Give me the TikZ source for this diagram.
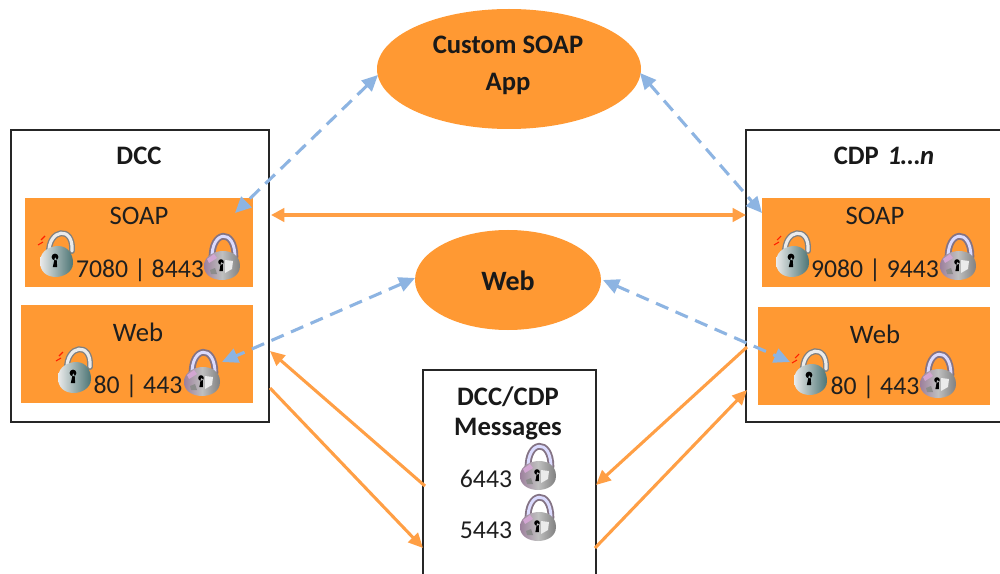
\documentclass[tikz,border=0pt]{standalone}
\usepackage{fontspec}
\setmainfont{Carlito}
\usetikzlibrary{arrows.meta}
\definecolor{ora}{HTML}{FF9933}
\definecolor{oral}{HTML}{FF9F45}
\definecolor{blu}{HTML}{8DB4E2}
\tikzset{
  blk/.style={draw=black!85,line width=1.2pt,fill=white},
  orect/.style={fill=ora,draw=none},
  ttl/.style={font=\fontsize{20}{22}\selectfont\bfseries,text=black!90,inner sep=0pt},
  lbl/.style={font=\fontsize{20}{22}\selectfont,text=black!88,inner sep=0pt},
  oarrow/.style={draw=oral,line width=2.3pt,-{Triangle[length=11pt,width=10pt]}},
  oboth/.style={draw=oral,line width=2.5pt,{Triangle[length=10pt,width=10pt]}-{Triangle[length=10pt,width=10pt]}},
  barrow/.style={draw=blu,line width=2.3pt,dash pattern=on 10pt off 6pt,{Triangle[length=12pt,width=11pt]}-{Triangle[length=12pt,width=11pt]}},
  lockopen/.pic={
    \draw[line width=4.4pt,draw=black!50,line cap=round] (-7,-9) .. controls (-8,-33) and (18,-37) .. (16,-11);
    \draw[line width=2.4pt,draw=black!8,line cap=round] (-7,-9) .. controls (-8,-33) and (18,-37) .. (16,-11);
    \shade[left color=black!8,right color=teal!45!black!70,draw=none]
      (-16,0) .. controls (-16,-13) and (-3,-16) .. (2,-16) .. controls (12,-16) and (17,-8) .. (17,1)
      .. controls (17,11) and (6,15) .. (0,15) .. controls (-10,15) and (-16,9) .. (-16,0) -- cycle;
    \fill[black] (-1,-5) circle (3.4) -- (-3.2,5) -- (1.2,5) -- (0.6,-3) -- cycle;
    \draw[red!75!orange,line width=0.8pt] (-15,-22) -- (-11,-26) (-18,-17) -- (-13,-20);
  },
  lockclosed/.pic={
    \draw[line width=5pt,draw=violet!25!black!55,line cap=round] (-10,-6) .. controls (-11,-35) and (13,-37) .. (13,-8);
    \draw[line width=2.2pt,draw=blue!14!white,line cap=round] (-10,-6) .. controls (-11,-35) and (13,-37) .. (13,-8);
    \shade[left color=violet!45!black!50,right color=black!50,middle color=black!25,draw=none]
      (-18,1) .. controls (-18,-10) and (-6,-14) .. (1,-14) .. controls (9,-14) and (18,-10) .. (18,1)
      .. controls (18,11) and (8,15) .. (0,15) .. controls (-8,15) and (-18,11) .. (-18,1) -- cycle;
    \fill[black!8] (3,-5) -- (11,-4) -- (10,4) -- (3,8) -- cycle;
    \fill[black!45] (-12,5) -- (-7,3) -- (-5,9) -- (-11,9) -- cycle;
    \fill[black] (-1,-3) circle (2.8) -- (-2.6,6) -- (0.8,6) -- (0.8,-2) -- cycle;
    \fill[violet!35] (-15,-6) -- (-8,-11) -- (-5,-7) -- (-13,-2) -- cycle;
  },
}
\begin{document}
\begin{tikzpicture}[x=0.75pt,y=-0.75pt]
\clip (0,0) rectangle (1000,574);
\fill[white] (0,0) rectangle (1000,574);

% outer boxes
\node[blk,minimum width=193.5pt,minimum height=219pt,inner sep=0pt] (dcc) at (140,276) {};
\node[blk,minimum width=193.5pt,minimum height=219pt,inner sep=0pt] (cdp) at (875,276) {};
\node[blk,minimum width=129.75pt,minimum height=172.5pt,inner sep=0pt] (msg) at (509.5,485) {};

% orange panels
\node[orect,minimum width=171pt,minimum height=66.75pt,inner sep=0pt] (dccsoap) at (139,242.5) {};
\node[orect,minimum width=174pt,minimum height=73.5pt,inner sep=0pt] (dccweb) at (137,354) {};
\node[orect,minimum width=171pt,minimum height=66.75pt,inner sep=0pt] (cdpsoap) at (876,242.5) {};
\node[orect,minimum width=174pt,minimum height=73.5pt,inner sep=0pt] (cdpweb) at (874,356) {};

% ellipses
\fill[ora] (509,69) ellipse [x radius=132,y radius=60];
\fill[ora] (508,280) ellipse [x radius=93,y radius=50];
\coordinate (appW) at (378,75);
\coordinate (appE) at (640,73);
\coordinate (webW) at (415,278);
\coordinate (webE) at (603,280);

% connector ends
\coordinate (dsB) at (235,213);
\coordinate (csB) at (762,213);
\coordinate (dwB) at (222,362);
\coordinate (cwB) at (790,362);
\coordinate (dO) at (271,215);
\coordinate (cO) at (746,215);
\coordinate (m1) at (425,486);
\coordinate (d1) at (270,351);
\coordinate (d2) at (270,388);
\coordinate (m2) at (423,548);
\coordinate (c1) at (747,347);
\coordinate (m3) at (596,485);
\coordinate (m4) at (595,548);
\coordinate (c2) at (747,390);

% labels
\node[ttl] (tdcc) at (139,156) {DCC};
\node[ttl] (tcdp) at (884,156) {CDP\hspace{2pt} \textit{1…n}};
\node[lbl] (ds) at (139,216) {SOAP};
\node[lbl] (dw) at (138,332) {Web};
\node[lbl] (cs) at (875,216) {SOAP};
\node[lbl] (cw) at (875,334) {Web};
\node[lbl,font=\fontsize{19.3}{22}\selectfont] (dsp) at (140,270) {7080 | 8443};
\node[lbl,font=\fontsize{19.3}{22}\selectfont] (dwp) at (138,386) {80 | 443};
\node[lbl,font=\fontsize{19.3}{22}\selectfont] (csp) at (875,270) {9080 | 9443};
\node[lbl,font=\fontsize{19.3}{22}\selectfont] (cwp) at (875,387) {80 | 443};
\node[ttl] (a1) at (508,45) {Custom SOAP};
\node[ttl] (a2) at (508,84) {App};
\node[ttl,font=\fontsize{21}{22}\selectfont\bfseries] (wb) at (508,281) {Web};
\node[ttl] (m1t) at (508,397) {DCC/CDP};
\node[ttl] (m2t) at (508,429) {Messages};
\node[lbl,font=\fontsize{19.3}{22}\selectfont] (p1) at (486,479) {6443};
\node[lbl,font=\fontsize{19.3}{22}\selectfont] (p2) at (486,530) {5443};

% locks
\pic at (56,262) {lockopen};
\pic at (222,265) {lockclosed};
\pic at (74,378) {lockopen};
\pic at (202,381) {lockclosed};
\pic at (792,262) {lockopen};
\pic at (958,265) {lockclosed};
\pic at (810,380) {lockopen};
\pic at (938,383) {lockclosed};
\pic at (538,475) {lockclosed};
\pic at (538,526) {lockclosed};

% connectors
\draw[barrow] (appW) -- (dsB);
\draw[barrow] (appE) -- (csB);
\draw[barrow] (webW) -- (dwB);
\draw[barrow] (webE) -- (cwB);
\draw[oboth] (dO) -- (cO);
\draw[oarrow] (m1) -- (d1);
\draw[oarrow] (d2) -- (m2);
\draw[oarrow] (c1) -- (m3);
\draw[oarrow] (m4) -- (c2);
\end{tikzpicture}
\end{document}
